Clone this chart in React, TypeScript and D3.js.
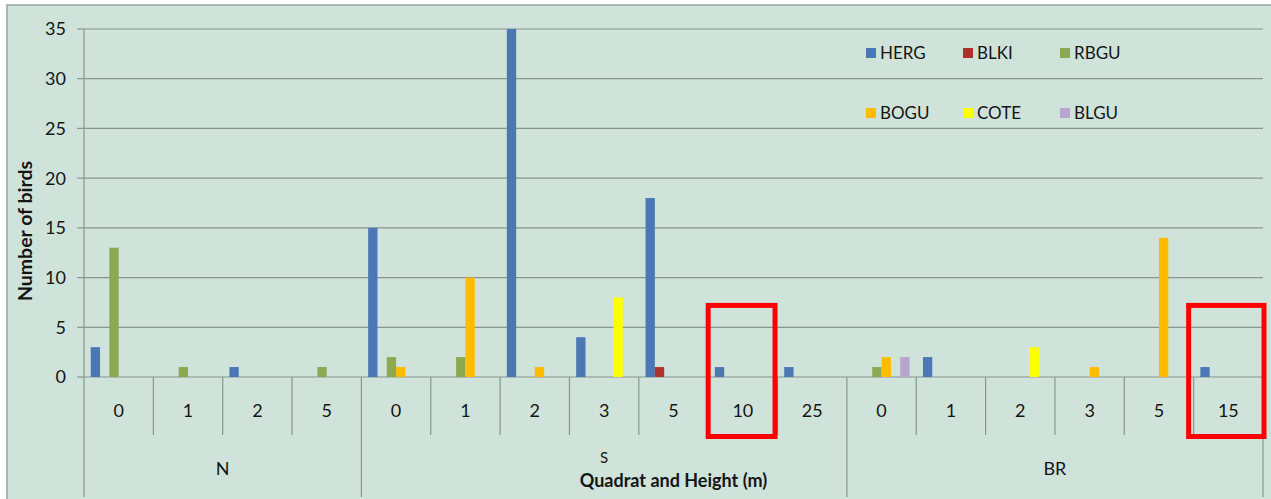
import React from "react";
import * as d3 from "d3";

const groups = ["N", "S", "BR"];
const heights: string[][] = [
  ["0", "1", "2", "5"],
  ["0", "1", "2", "3", "5", "10", "25"],
  ["0", "1", "2", "3", "5", "15"],
];
const seriesNames = ["HERG", "BLKI", "RBGU", "BOGU", "COTE", "BLGU"];
const seriesColors = ["#4a78b4", "#b0302c", "#8ba852", "#ffbb00", "#ffff00", "#b8a4cc"];
// values per category in order N0..N5, S0..S25, BR0..BR15
const HERG = [3, 0, 1, 0, 15, 0, 35, 4, 18, 1, 1, 0, 2, 0, 0, 0, 1];
const BLKI = [0, 0, 0, 0, 0, 0, 0, 0, 1, 0, 0, 0, 0, 0, 0, 0, 0];
const RBGU = [13, 1, 0, 1, 2, 2, 0, 0, 0, 0, 0, 1, 0, 0, 0, 0, 0];
const BOGU = [0, 0, 0, 0, 1, 10, 1, 0, 0, 0, 0, 2, 0, 0, 1, 14, 0];
const COTE = [0, 0, 0, 0, 0, 0, 0, 8, 0, 0, 0, 0, 0, 3, 0, 0, 0];
const BLGU = [0, 0, 0, 0, 0, 0, 0, 0, 0, 0, 0, 2, 0, 0, 0, 0, 0];
const seriesValues = [HERG, BLKI, RBGU, BOGU, COTE, BLGU];
const yTicks = [0, 5, 10, 15, 20, 25, 30, 35];
const highlighted = ["S-10", "BR-15"];

const W = 1271;
const H = 499;
const L = 84;
const R = 1263;
const T = 29;
const B = 377;
const FONT = "Lato, 'Open Sans', sans-serif";
const TXT = "#151515";

export default function App() {
  const cats: { key: string; group: string; label: string }[] = [];
  groups.forEach((g, gi) => heights[gi].forEach((h) => cats.push({ key: `${g}-${h}`, group: g, label: h })));

  const x = d3.scaleBand<string>().domain(cats.map((c) => c.key)).range([L, R]).paddingInner(0).paddingOuter(0);
  const bw = x.bandwidth();
  const xs = d3.scaleBand<string>().domain(seriesNames).range([0, bw]).paddingInner(0).paddingOuter(0.72);
  const y = d3.scaleLinear().domain([0, 35]).range([B, T]);

  const groupSpans = groups.map((g) => {
    const cs = cats.filter((c) => c.group === g);
    const x0 = x(cs[0].key)!;
    const x1 = x(cs[cs.length - 1].key)! + bw;
    return { g, x0, x1 };
  });

  const legendX = [866, 963, 1060];
  const legendY = [53, 113];

  return (
    <svg width={W} height={H} style={{ position: "absolute", left: 0, top: 0 }} fontFamily={FONT}>
      <rect x={7} y={5} width={W + 10} height={H + 10} fill="#cfe3db" stroke="#9aa5a0" strokeWidth={1.5} />
      {/* gridlines */}
      {yTicks.map((t) => (
        <g key={t}>
          <line x1={L} x2={R} y1={y(t)} y2={y(t)} stroke="#8a9590" strokeWidth={1.2} />
          <line x1={L - 7} x2={L} y1={y(t)} y2={y(t)} stroke="#8a9590" strokeWidth={1.2} />
          <text x={66} y={y(t)} dy="0.36em" textAnchor="end" fontSize={18} fill={TXT}>
            {t}
          </text>
        </g>
      ))}
      {/* y axis line */}
      <line x1={L} x2={L} y1={T} y2={497} stroke="#8a9590" strokeWidth={1.2} />
      {/* category separators */}
      {cats.map((c, i) =>
        i === 0 ? null : (
          <line key={c.key} x1={x(c.key)!} x2={x(c.key)!} y1={B} y2={cats[i - 1].group !== c.group ? 497 : 435} stroke="#8a9590" strokeWidth={1.2} />
        )
      )}
      <line x1={R} x2={R} y1={B} y2={497} stroke="#8a9590" strokeWidth={1.2} />
      {/* category labels */}
      {cats.map((c) => (
        <text key={c.key} x={x(c.key)! + bw / 2} y={417} textAnchor="middle" fontSize={18} fill={TXT}>
          {c.label}
        </text>
      ))}
      {groupSpans.map((s) => (
        <text key={s.g} x={(s.x0 + s.x1) / 2} y={s.g === "S" ? 463 : 475} textAnchor="middle" fontSize={s.g === "S" ? 15 : 18} fill={TXT}>
          {s.g}
        </text>
      ))}
      <text x={(L + R) / 2} y={487} textAnchor="middle" fontSize={18} fontWeight="bold" fill={TXT}>
        Quadrat and Height (m)
      </text>
      <text transform={`translate(32,${(T + B) / 2 + 28}) rotate(-90)`} textAnchor="middle" fontSize={19.5} fontWeight="bold" fill={TXT}>
        Number of birds
      </text>
      {/* bars */}
      {seriesNames.map((s, si) =>
        cats.map((c, ci) => {
          const v = seriesValues[si][ci];
          if (!v) return null;
          return (
            <rect key={`${s}-${c.key}`} x={x(c.key)! + xs(s)!} y={y(v)} width={xs.bandwidth()} height={y(0) - y(v)} fill={seriesColors[si]} />
          );
        })
      )}
      {/* legend */}
      {seriesNames.map((s, i) => {
        const lx = legendX[i % 3];
        const ly = legendY[Math.floor(i / 3)];
        return (
          <g key={s}>
            <rect x={lx} y={ly - 5} width={10} height={10} fill={seriesColors[i]} />
            <text x={lx + 14} y={ly} dy="0.36em" fontSize={17} fill={TXT}>
              {s}
            </text>
          </g>
        );
      })}
      {/* highlight boxes */}
      {highlighted.map((k, i) => (
        <rect key={k} x={x(k)! - (i === 0 ? 0 : 5)} y={y(7.2)} width={bw + (i === 0 ? -2.5 : 6)} height={439 - 2.5 - y(7.2)} fill="none" stroke="#ff0000" strokeWidth={5} />
      ))}
    </svg>
  );
}
